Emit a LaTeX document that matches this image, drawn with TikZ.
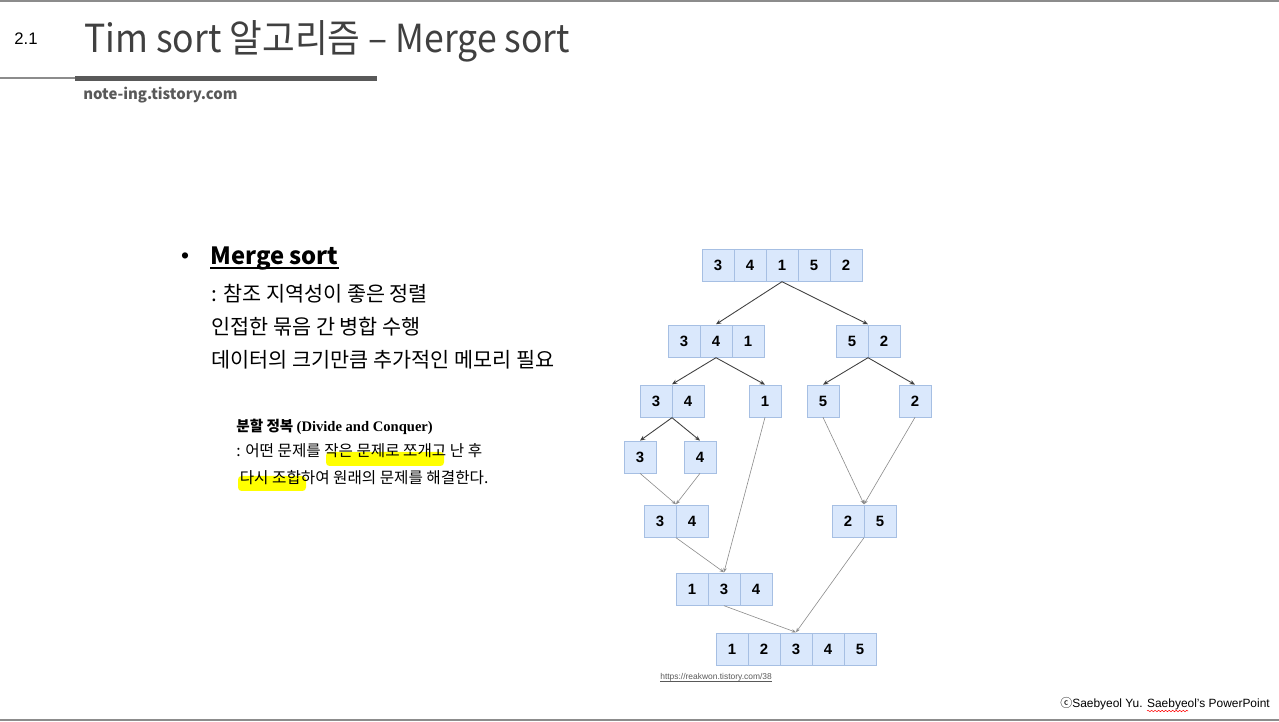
\documentclass[tikz,border=0pt]{standalone}
\usepackage{fontspec}
\setmainfont{Liberation Sans}
\newfontfamily\kor{Noto Sans CJK KR}
\newfontfamily\kortitle[FakeStretch=0.92]{Noto Sans CJK KR}
\newfontfamily\serifb{Liberation Serif}
\usetikzlibrary{arrows.meta,positioning,calc,fit,decorations.pathmorphing}

\definecolor{cellfill}{HTML}{DAE8FC}
\definecolor{cellline}{HTML}{A6BFE3}
\definecolor{titlegray}{HTML}{404040}
\definecolor{rulegray}{HTML}{595959}
\definecolor{linegray}{HTML}{8C8C8C}
\definecolor{hilite}{HTML}{FFFF00}

\tikzset{
  cell/.style={draw=cellline, fill=cellfill, minimum width=0.64cm, minimum height=0.64cm,
    inner sep=0pt, font=\bfseries\fontsize{8.5}{10}\selectfont},
  split/.style={-{Stealth[length=3pt,width=2.5pt]}, draw=titlegray, line width=0.5pt},
  merge/.style={-{Stealth[length=2.5pt,width=2pt]}, draw=linegray, line width=0.35pt},
  txt/.style={anchor=base west, inner sep=0pt},
}

% one row of cells: name, left x, centre y, values
\newcommand\cellrow[4]{%
  \foreach \v [count=\i] in {#4}{
    \node[cell] (#1-\i) at ({#2+32*\i-16},#3) {\v};
  }
}

\begin{document}
\begin{tikzpicture}[x=0.02cm,y=-0.02cm]
\useasboundingbox (0,0) rectangle (1279,722);

% header
\draw[linegray, line width=0.6pt] (0,1) -- (1279,1);
\draw[linegray, line width=0.6pt] (0,720) -- (1279,720);
\draw[linegray, line width=0.6pt] (0,78) -- (75,78);
\draw[rulegray, line width=2.8pt] (75,78.5) -- (377,78.5);
\node[txt, font=\fontsize{9.5}{11}\selectfont] (secno) at (14,45) {2.1};
\node[txt, text=titlegray, font=\kortitle\fontsize{22}{26}\selectfont] (title) at (84,53)
  {Tim sort 알고리즘 – Merge sort};
\node[txt, text=rulegray, font=\kor\bfseries\fontsize{8.5}{10}\selectfont] (blog) at (83,100)
  {note-ing.tistory.com};

% left text
\node[font=\fontsize{13}{15}\selectfont] (bullet) at (185,258) {•};
\node[txt, font=\kor\bfseries\fontsize{13.5}{15}\selectfont] (heading) at (210,265) {Merge sort};
\draw[line width=0.8pt] ($(heading.base west)+(0,3)$) -- ($(heading.base east)+(0,3)$);
\node[txt, font=\kor\fontsize{11.8}{13}\selectfont] (line1) at (211,302) {: 참조 지역성이 좋은 정렬};
\node[txt, font=\kor\fontsize{11.8}{13}\selectfont] (line2) at (211,335) {인접한 묶음 간 병합 수행};
\node[txt, font=\kor\fontsize{11.8}{13}\selectfont] (line3) at (211,368) {데이터의 크기만큼 추가적인 메모리 필요};

\fill[hilite, rounded corners=2pt] (326,452) rectangle (444,466);
\fill[hilite, rounded corners=2pt] (238,476) rectangle (306,491);
\node[txt, font=\kor\bfseries\fontsize{8.3}{9}\selectfont] (dc) at (236,432)
  {분할 정복 {\serifb\bfseries (Divide and Conquer)}};
\node[txt, font=\kor\fontsize{8.9}{10}\selectfont] (dc1) at (236,457) {: 어떤 문제를 작은 문제로 쪼개고 난 후};
\node[txt, font=\kor\fontsize{8.9}{10}\selectfont] (dc2) at (236,484) {\ 다시 조합하여 원래의 문제를 해결한다.};

% tree
\cellrow{top}{702}{265}{3,4,1,5,2}
\cellrow{l}{668}{341}{3,4,1}
\cellrow{r}{836}{341}{5,2}
\cellrow{ll}{640}{401}{3,4}
\cellrow{lr}{749}{401}{1}
\cellrow{rl}{807}{401}{5}
\cellrow{rr}{899}{401}{2}
\cellrow{lla}{624}{457}{3}
\cellrow{llb}{684}{457}{4}
\cellrow{ma}{644}{521}{3,4}
\cellrow{mb}{832}{521}{2,5}
\cellrow{mc}{676}{589}{1,3,4}
\cellrow{md}{716}{649}{1,2,3,4,5}

\node[fit=(top-1)(top-5), inner sep=0pt] (top) {};
\node[fit=(l-1)(l-3), inner sep=0pt] (l) {};
\node[fit=(r-1)(r-2), inner sep=0pt] (r) {};
\node[fit=(ll-1)(ll-2), inner sep=0pt] (ll) {};
\node[fit=(ma-1)(ma-2), inner sep=0pt] (ma) {};
\node[fit=(mb-1)(mb-2), inner sep=0pt] (mb) {};
\node[fit=(mc-1)(mc-3), inner sep=0pt] (mc) {};
\node[fit=(md-1)(md-5), inner sep=0pt] (md) {};

\draw[split] (top.south) -- (l.north);
\draw[split] (top.south) -- (r.north);
\draw[split] (l.south) -- (ll.north);
\draw[split] (l.south) -- (lr-1.north);
\draw[split] (r.south) -- (rl-1.north);
\draw[split] (r.south) -- (rr-1.north);
\draw[split] (ll.south) -- (lla-1.north);
\draw[split] (ll.south) -- (llb-1.north);

\draw[merge] (lla-1.south) -- (ma.north);
\draw[merge] (llb-1.south) -- (ma.north);
\draw[merge] (lr-1.south) -- (mc.north);
\draw[merge] (ma.south) -- (mc.north);
\draw[merge] (rl-1.south) -- (mb.north);
\draw[merge] (rr-1.south) -- (mb.north);
\draw[merge] (mc.south) -- (md.north);
\draw[merge] (mb.south) -- (md.north);

\node[txt, text=rulegray, font=\fontsize{4.8}{5}\selectfont] (src) at (660,680)
  {https://reakwon.tistory.com/38};
\draw[rulegray, line width=0.3pt] ($(src.base west)+(0,1.5)$) -- ($(src.base east)+(0,1.5)$);

% footer
\node[txt, font=\fontsize{6.8}{8}\selectfont] (copy) at (1060,708)
  {{\kor ⓒ}Saebyeol Yu. Saebyeol’s PowerPoint};
\draw[red, line width=0.3pt, decorate, decoration={snake, amplitude=0.4pt, segment length=2pt}]
  (1147,711) -- (1188,711);
\end{tikzpicture}
\end{document}
